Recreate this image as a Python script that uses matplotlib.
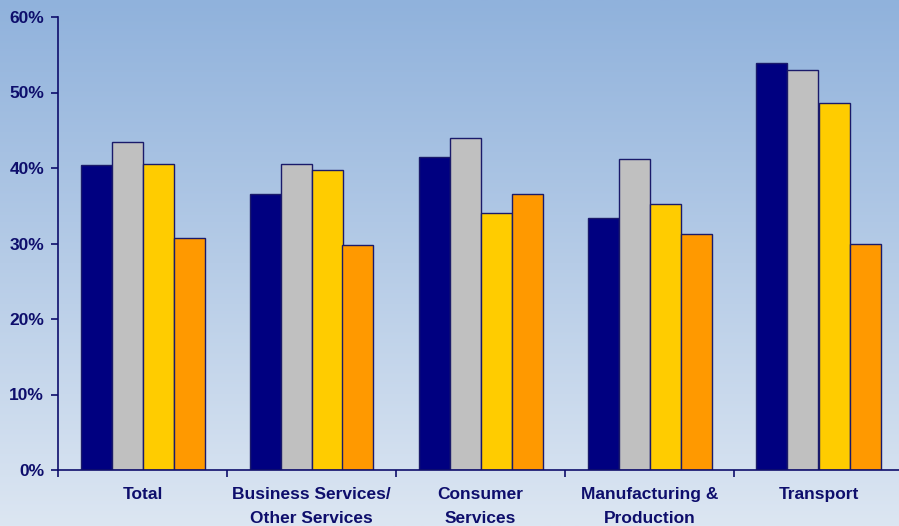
import numpy as np
import matplotlib
matplotlib.use("Agg")
import matplotlib.pyplot as plt
from matplotlib.ticker import FuncFormatter

categories = ["Total", "Business Services/\nOther Services", "Consumer\nServices",
              "Manufacturing &\nProduction", "Transport"]
series_navy = [40.4, 36.6, 41.5, 33.4, 53.9]
series_gray = [43.4, 40.5, 44.0, 41.2, 53.0]
series_yellow = [40.5, 39.7, 34.0, 35.2, 48.6]
series_orange = [30.7, 29.8, 36.6, 31.3, 29.9]
y_ticks = [0, 10, 20, 30, 40, 50, 60]

colors = ["#000080", "#C0C0C0", "#FFCC00", "#FF9900"]
text_color = "#0E0E6C"
edge_color = "#1A1A6A"

fig = plt.figure(figsize=(8.99, 5.26), dpi=100)

# gradient backdrop
bg = fig.add_axes([0, 0, 1, 1], zorder=-10)
grad = np.linspace(0, 1, 256).reshape(-1, 1)
top = np.array([0x90, 0xB2, 0xDC]) / 255
bot = np.array([0xDC, 0xE6, 0xF2]) / 255
img = top[None, None, :] * (1 - grad[:, :, None]) + bot[None, None, :] * grad[:, :, None]
bg.imshow(img, aspect="auto", extent=[0, 1, 0, 1])
bg.axis("off")

W, H = 899, 526
left, right = 58, 903
ybot, ytop = 470, 17
ax = fig.add_axes([left / W, 1 - ybot / H, (right - left) / W, (ybot - ytop) / H])
ax.patch.set_alpha(0)

x = np.arange(len(categories)) + 0.5
bw = 31 / 169
series = [series_navy, series_gray, series_yellow, series_orange]
for i, (vals, c) in enumerate(zip(series, colors)):
    ax.bar(x + (i - 1.5) * bw, vals, width=bw, color=c, edgecolor=edge_color, linewidth=1.0)

ax.set_xlim(0, len(categories))
ax.set_ylim(0, 60)
ax.set_yticks(y_ticks)
ax.yaxis.set_major_formatter(FuncFormatter(lambda v, p: f"{v:.0f}%"))
ax.set_xticks(np.arange(len(categories) + 1))
ax.set_xticklabels([])
for xi, lab in zip(x, categories):
    ax.text(xi, -2.3, lab, ha="center", va="top", fontsize=12.5, fontweight="bold",
            color=text_color, family="Liberation Sans", linespacing=1.75,
            transform=ax.transData, clip_on=False)

for s in ["top", "right"]:
    ax.spines[s].set_visible(False)
for s in ["left", "bottom"]:
    ax.spines[s].set_color(text_color)
    ax.spines[s].set_linewidth(1.2)
ax.tick_params(axis="both", direction="out", length=5, width=1.2, color=text_color)
ax.tick_params(axis="y", labelsize=12.5, labelcolor=text_color, pad=5)
for t in ax.get_yticklabels():
    t.set_fontweight("bold")
    t.set_family("Liberation Sans")

fig.savefig("out.png", dpi=100)
